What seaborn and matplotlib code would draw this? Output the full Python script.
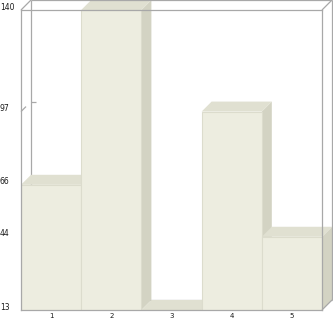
import numpy as np
import pandas as pd
import matplotlib
matplotlib.use("Agg")
import matplotlib.pyplot as plt
import matplotlib.transforms as mtransforms
from matplotlib.patches import Polygon
from matplotlib.lines import Line2D
import seaborn as sns

# ---- data ----
categories = ["1", "2", "3", "4", "5"]
values = [66, 140, 13, 97, 44]
y_ticks = [13, 44, 66, 97, 140]
y_min, y_max = 13, 140
stub_value = 97

# ---- style ----
FRONT = "#EDEDE0"
EDGE = "#DCDCCD"
TOP = "#E0E0D1"
SIDE = "#D3D3C3"
FRAME = "#A8A8A8"
TXT = "#1A1A1A"
DEPTH_PX = 10

W, H = 333, 321
fig = plt.figure(figsize=(W / 100, H / 100), dpi=100)
fig.patch.set_facecolor("white")
ax = fig.add_axes([21 / W, (H - 310) / H, 301 / W, 300 / H])
ax.set_facecolor("none")

df = pd.DataFrame({"cat": categories, "val": values})
sns.barplot(data=df, x="cat", y="val", color=FRONT, saturation=1, width=1,
            ax=ax, zorder=2, linewidth=0.8, edgecolor=EDGE)
ax.set_xlim(-0.5, len(categories) - 0.5)
ax.set_ylim(y_min, y_max)

# depth offset in data units
p0 = ax.transData.transform((0, y_min))
q = ax.transData.inverted().transform(p0 + np.array([DEPTH_PX, DEPTH_PX]))
dx, dy = q[0] - 0, q[1] - y_min

# 3D faces (drawn left to right, behind all front faces)
for i, patch in enumerate(ax.patches):
    x0 = patch.get_x()
    x1 = x0 + patch.get_width()
    top = patch.get_y() + patch.get_height()
    bot = max(patch.get_y(), y_min)
    side = Polygon([(x1, bot), (x1, top), (x1 + dx, top + dy), (x1 + dx, bot + dy)],
                   closed=True, facecolor=SIDE, edgecolor="none", zorder=1.5 + i * 0.01,
                   clip_on=False)
    topf = Polygon([(x0, top), (x1, top), (x1 + dx, top + dy), (x0 + dx, top + dy)],
                   closed=True, facecolor=TOP, edgecolor="none", zorder=1.505 + i * 0.01,
                   clip_on=False)
    ax.add_patch(side)
    ax.add_patch(topf)

xl, xr = ax.get_xlim()
lw = 0.9

def line(xs, ys, z):
    ax.add_line(Line2D(xs, ys, color=FRAME, lw=lw, zorder=z, clip_on=False,
                       solid_capstyle="butt"))

# back wall (hidden parts)
line([xl + dx, xl + dx], [y_min + dy, y_max + dy], 1)
line([xl + dx, xr + dx], [y_min + dy, y_min + dy], 1)
# back wall visible edges
line([xl + dx, xr + dx], [y_max + dy, y_max + dy], 6)
line([xr + dx, xr + dx], [y_min + dy, y_max + dy], 6)
# diagonals
line([xl, xl + dx], [y_max, y_max + dy], 6)
line([xr, xr + dx], [y_max, y_max + dy], 6)
line([xr, xr + dx], [y_min, y_min + dy], 6)
# small stub at 97
line([xl, xl + dx / 2], [stub_value, stub_value + dy / 2], 1)
line([xl + dx, xl + dx * 1.5], [stub_value + dy, stub_value + dy], 1)

for s in ax.spines.values():
    s.set_color(FRAME)
    s.set_linewidth(lw)
    s.set_zorder(6)

ax.set_xlabel("")
ax.set_ylabel("")
ax.set_yticks([])
ax.tick_params(axis="x", length=0, pad=2.5, labelsize=5, colors=TXT)

# y labels: left aligned at figure left edge, a few px above value
trans = mtransforms.blended_transform_factory(fig.transFigure, ax.transData) + \
    mtransforms.ScaledTranslation(0, 3 / 100, fig.dpi_scale_trans)
for t in y_ticks:
    ax.text(0, t, str(t), transform=trans, ha="left", va="center",
            fontsize=5.5, color=TXT, clip_on=False)

fig.savefig("out.png", dpi=100, facecolor="white")
